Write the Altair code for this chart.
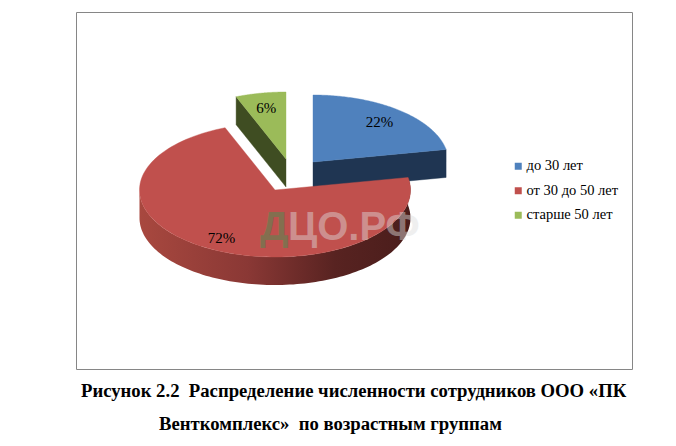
import numpy as np
import pandas as pd
import altair as alt

categories = ["до 30 лет", "от 30 до 50 лет", "старше 50 лет"]
shares = [22, 72, 6]
top_colors = ["#4F81BD", "#C0504D", "#9BBB59"]
side_colors = ["#1F3552", "#8A3835", "#3F4D22"]
caption_lines = ["Рисунок 2.2\u00a0\u00a0Распределение численности сотрудников ООО «ПК",
                 "Венткомплекс»\u00a0\u00a0по возрастным группам"]
watermark_parts = ["Д", "ЦО.РФ"]

W, H, M = 660, 430, 8
RX, RY, DEPTH = 135.5, 67.0, 28.0
APEX = {0: (313.0, 162.0), 1: (275.0, 190.0), 2: (286.0, 159.0)}
LABEL_R = [0.77, 0.82, 0.78]

X = alt.X("px:Q", axis=None, scale=alt.Scale(domain=[M, W + M], nice=False, zero=False))
Y = alt.Y("py:Q", axis=None, scale=alt.Scale(domain=[H + M, M], nice=False, zero=False))

cum = np.cumsum([0] + shares) / 100 * 2 * np.pi


def rim(k, a0, a1, dy=0.0, n=120):
    ax, ay = APEX[k]
    t = np.linspace(a0, a1, n)
    return list(zip(ax + RX * np.sin(t), ay - RY * np.cos(t) + dy))


def poly(points, fill, stroke=True):
    df = pd.DataFrame(points, columns=["px", "py"])
    df["i"] = range(len(df))
    kw = dict(interpolate="linear-closed", fill=fill, clip=False)
    if stroke:
        kw.update(stroke=fill, strokeWidth=0.4)
    else:
        kw.update(stroke="transparent", strokeWidth=0)
    return alt.Chart(df).mark_line(**kw).encode(x=X, y=Y, order=alt.Order("i:Q"))


def top(k):
    return poly([APEX[k]] + rim(k, cum[k], cum[k + 1]), top_colors[k])


def cut(k, a):
    ax, ay = APEX[k]
    ex, ey = rim(k, a, a, n=1)[0]
    return poly([(ax, ay), (ex, ey), (ex, ey + DEPTH), (ax, ay + DEPTH)], side_colors[k])


layers = []

# frame
frame_df = pd.DataFrame({"px": [76.5], "px2": [632.5], "py": [12.5], "py2": [369.5]})
layers.append(alt.Chart(frame_df).mark_rect(fill="white", stroke="#868686", strokeWidth=1).encode(
    x=X, x2="px2:Q", y=Y, y2="py2:Q"))

# slices, back to front
layers += [cut(2, cum[2]), top(2), cut(0, cum[1]), top(0)]

wall_grad = alt.LinearGradient(
    gradient="linear", x1=0, y1=0, x2=1, y2=0,
    stops=[alt.GradientStop(color="#A8483F", offset=0),
           alt.GradientStop(color="#8A3835", offset=0.4),
           alt.GradientStop(color="#582321", offset=0.72),
           alt.GradientStop(color="#4A1D1B", offset=1)])
a_start = cum[1]
a_end = 1.5 * np.pi
wall_pts = rim(1, a_start, a_end) + rim(1, a_end, a_start, dy=DEPTH)
layers.append(poly(wall_pts, wall_grad, stroke=False))
layers.append(top(1))

# percentage labels
lab = []
for k, s in enumerate(shares):
    mid = (cum[k] + cum[k + 1]) / 2
    ax, ay = APEX[k]
    lab.append({"px": ax + RX * LABEL_R[k] * np.sin(mid),
                "py": ay - RY * LABEL_R[k] * np.cos(mid),
                "t": f"{s}%"})
layers.append(alt.Chart(pd.DataFrame(lab)).mark_text(
    font="Liberation Serif", fontSize=15, color="#000000", align="center", baseline="middle"
).encode(x=X, y=Y, text="t:N"))

# watermark
wm = alt.Chart(pd.DataFrame({"px": [260.0], "py": [240.0], "t": [watermark_parts[0]]})).mark_text(
    font="Liberation Sans", fontWeight="bold", fontSize=40, color="#6F7A50", opacity=0.75,
    align="left", baseline="alphabetic").encode(x=X, y=Y, text="t:N")
wm2 = alt.Chart(pd.DataFrame({"px": [288.0], "py": [240.0], "t": [watermark_parts[1]]})).mark_text(
    font="Liberation Sans", fontWeight="bold", fontSize=40, color="#DDDDDD", opacity=0.45,
    align="left", baseline="alphabetic").encode(x=X, y=Y, text="t:N")
layers += [wm, wm2]

# caption
cap = pd.DataFrame({"px": [81.0, 159.0], "py": [391.0, 424.0], "t": caption_lines})
layers.append(alt.Chart(cap).mark_text(
    font="Liberation Serif", fontWeight="bold", fontSize=18.7, color="#000000",
    align="left", baseline="middle").encode(x=X, y=Y, text="t:N"))

# legend carrier
leg_df = pd.DataFrame({"cat": categories, "px": [M] * 3, "py": [M] * 3})
layers.append(alt.Chart(leg_df).mark_square(size=0, opacity=1).encode(
    x=X, y=Y,
    color=alt.Color("cat:N",
                    scale=alt.Scale(domain=categories, range=top_colors),
                    legend=alt.Legend(title=None, orient="none", legendX=503, legendY=151,
                                      symbolType="square", symbolSize=49, symbolStrokeWidth=0,
                                      labelFont="Liberation Serif", labelFontSize=14.5,
                                      labelColor="#000000", labelOffset=1, rowPadding=9.5,
                                      symbolOpacity=1))))

chart = alt.layer(*layers).properties(width=W, height=H, padding=0, background="white"
    ).configure_view(stroke=None)
chart.save("out.html", embed_options={"renderer": "svg", "actions": False})
